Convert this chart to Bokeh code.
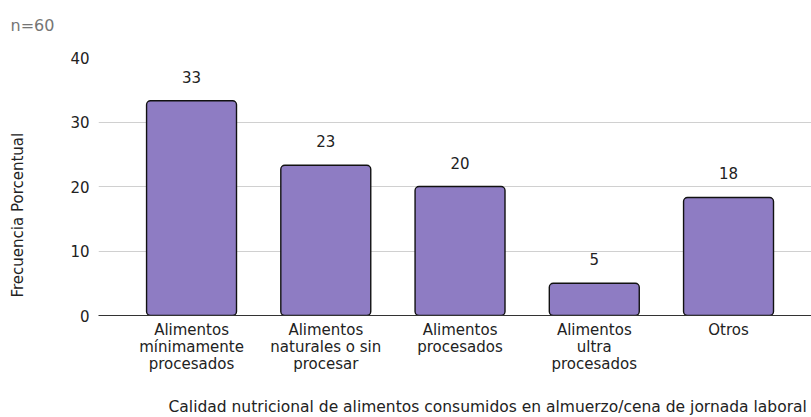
from bokeh.plotting import figure
from bokeh.models import ColumnDataSource, Range1d, FixedTicker, Title
from bokeh.embed import file_html
from bokeh.resources import INLINE
from bokeh.core.properties import value

categories = [
    "Alimentos\nmínimamente\nprocesados",
    "Alimentos\nnaturales o sin\nprocesar",
    "Alimentos\nprocesados",
    "Alimentos\nultra\nprocesados",
    "Otros",
]
values = [33.3, 23.3, 20.0, 5.0, 18.3]
value_labels = ["33", "23", "20", "5", "18"]
y_ticks = [0, 10, 20, 30, 40]

FONT = "DejaVu Sans"
W, H = 811, 417
BL, BR, BT = 98, 0, 57
FW, FH = 713, 258
BB = H - BT - FH
X0, X1 = -0.693, 4.618
Y0, Y1 = 0, 40

xs = list(range(len(categories)))
src = ColumnDataSource(dict(x=xs, top=values, lab=value_labels))

p = figure(frame_width=FW, frame_height=FH, output_backend="svg", toolbar_location=None,
           x_range=Range1d(X0, X1), y_range=Range1d(Y0, Y1),
           min_border_left=BL, min_border_right=BR, min_border_top=BT, min_border_bottom=BB)
p.outline_line_color = None
p.background_fill_color = "white"
p.border_fill_color = "white"

p.vbar(x="x", top="top", width=0.67, source=src, fill_color="#8e7cc3",
       line_color="#111111", line_width=1.4, border_radius=4)

p.text(x="x", y="top", text="lab", source=src, text_align="center",
       text_baseline="middle", y_offset=-24, text_font=value(FONT),
       text_font_size="15px", text_color="#222222")

p.xaxis.ticker = FixedTicker(ticks=xs)
p.xaxis.major_label_overrides = {i: c for i, c in enumerate(categories)}
p.xaxis.major_tick_line_color = None
p.xaxis.major_tick_out = 0
p.xaxis.major_tick_in = 0
p.xaxis.minor_tick_line_color = None
p.xaxis.axis_line_color = "#333333"
p.xaxis.axis_line_width = 1.2
p.xaxis.major_label_text_font = FONT
p.xaxis.major_label_text_font_size = "15px"
p.xaxis.major_label_text_color = "#222222"
p.xaxis.major_label_text_line_height = 0.95
p.xaxis.major_label_standoff = 5
# blank axis label used only as a spacer between tick labels and the title
p.xaxis.axis_label = " "
p.xaxis.axis_label_text_font_size = "1px"
p.xaxis.axis_label_standoff = 15
p.xgrid.grid_line_color = None

p.yaxis.ticker = FixedTicker(ticks=y_ticks)
p.yaxis.major_tick_line_color = None
p.yaxis.major_tick_out = 0
p.yaxis.major_tick_in = 0
p.yaxis.minor_tick_line_color = None
p.yaxis.axis_line_color = None
p.yaxis.major_label_text_font = FONT
p.yaxis.major_label_text_font_size = "15px"
p.yaxis.major_label_text_color = "#222222"
p.yaxis.major_label_standoff = 9
p.yaxis.axis_label = " "
p.yaxis.axis_label_text_font_size = "1px"
p.yaxis.axis_label_standoff = 36
p.ygrid.grid_line_color = "#d0d0d0"
p.ygrid.grid_line_width = 1

p.add_layout(Title(text="Calidad nutricional de alimentos consumidos en almuerzo/cena de jornada laboral",
                   align="left", offset=70, standoff=2, text_font=FONT,
                   text_font_size="15.5px", text_font_style="normal", text_color="#222222"), "below")
p.add_layout(Title(text="Frecuencia Porcentual", align="left", offset=18, standoff=2,
                   text_font=FONT, text_font_size="15px", text_font_style="normal",
                   text_color="#222222"), "left")
# spacer above the frame, then the sample-size note
p.add_layout(Title(text=" ", text_font_size="1px", standoff=19), "above")
p.add_layout(Title(text="n=60", align="left", offset=-88, standoff=2,
                   text_font=FONT, text_font_size="16px", text_font_style="normal",
                   text_color="#757575"), "above")

open("out.html", "w").write(file_html(p, INLINE))
